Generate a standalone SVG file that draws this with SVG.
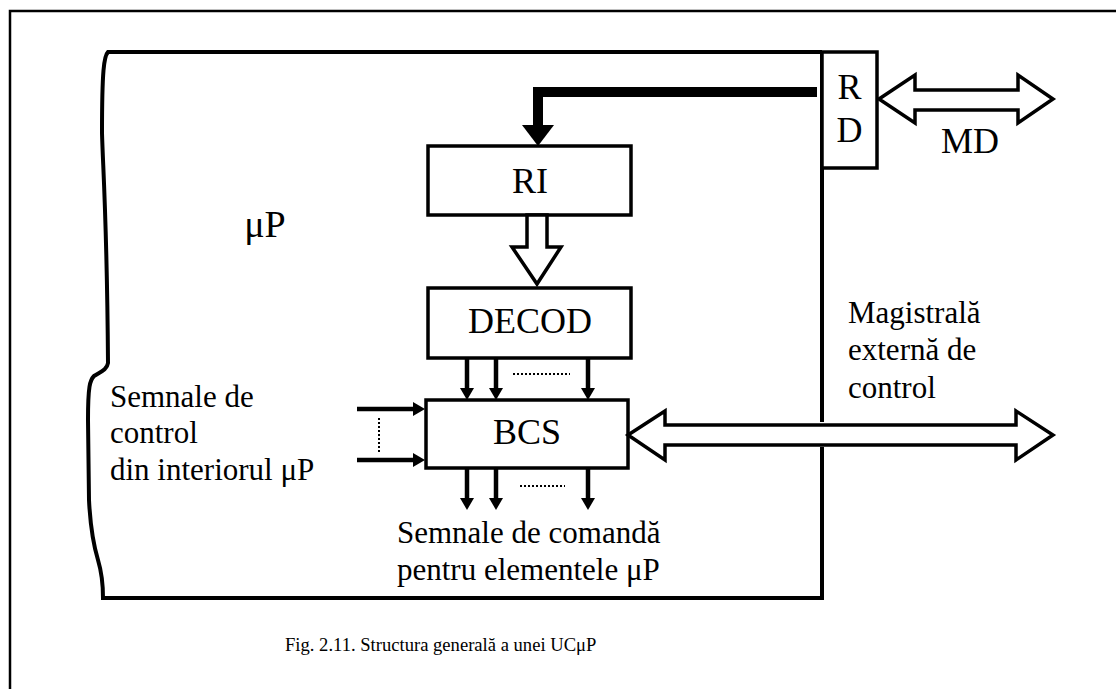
<svg xmlns="http://www.w3.org/2000/svg" width="1116" height="689" viewBox="0 0 1116 689">
<style>
text{font-family:'Liberation Serif','Times New Roman',serif;fill:#000}
.big{font-size:36px}
.lab{font-size:31px}
.box{fill:#fff;stroke:#000;stroke-width:3.5}
.ln{fill:none;stroke:#000;stroke-width:4.5}
.dot{fill:none;stroke:#000;stroke-width:2;stroke-dasharray:2 2}
.hollow{fill:#fff;stroke:#000;stroke-width:3.5;stroke-linejoin:miter}
.head{fill:#000}
</style>
<rect width="1116" height="689" fill="#fff"/>
<g id="frame">
<path d="M10,700 V11 H1120" fill="none" stroke="#000" stroke-width="2.5"/>
</g>
<g id="up">
<path d="M822,52 H108 C104,56 102,70 102,133 C103,170 107,220 108,363 C107,370 100,372 94,376 C90,380 88,386 88,420 L89,500 C90,520 92,540 98,560 C101,570 103,585 103,598 H822 V447 M822,422 V52" fill="none" stroke="#000" stroke-width="4"/>
<text x="265" y="237" font-size="38" text-anchor="middle">μP</text>
</g>
<g id="RD">
<rect class="box" x="822" y="52" width="55" height="116"/>
<text class="big" x="849.5" y="99" text-anchor="middle">R</text>
<text class="big" x="849.5" y="142" text-anchor="middle">D</text>
</g>
<g id="RI">
<rect class="box" x="428" y="146" width="203" height="69"/>
<text class="big" x="530" y="193" text-anchor="middle">RI</text>
</g>
<g id="DECOD">
<rect class="box" x="428" y="288" width="203" height="70"/>
<text class="big" x="530" y="333" text-anchor="middle">DECOD</text>
</g>
<g id="BCS">
<rect class="box" x="426" y="400" width="202" height="68"/>
<text class="big" x="527" y="444" text-anchor="middle">BCS</text>
</g>
<g id="connectors">
<path d="M817,92 H538 V126" fill="none" stroke="#000" stroke-width="10"/>
<polygon class="head" points="522,125 554,125 538,146"/>
<polygon class="hollow" points="527,215 527,247 512,247 537,284 561,247 547,247 547,215"/>
<line class="ln" x1="467" y1="358" x2="467" y2="390"/>
<line class="ln" x1="496" y1="358" x2="496" y2="390"/>
<line class="ln" x1="588" y1="358" x2="588" y2="390"/>
<polygon class="head" points="460,388 474,388 467,400"/>
<polygon class="head" points="489,388 503,388 496,400"/>
<polygon class="head" points="581,388 595,388 588,400"/>
<line class="dot" x1="513" y1="374" x2="570" y2="374"/>
<line class="ln" x1="467" y1="468" x2="467" y2="500"/>
<line class="ln" x1="496" y1="468" x2="496" y2="500"/>
<line class="ln" x1="588" y1="468" x2="588" y2="500"/>
<polygon class="head" points="460,498 474,498 467,510"/>
<polygon class="head" points="489,498 503,498 496,510"/>
<polygon class="head" points="581,498 595,498 588,510"/>
<line class="dot" x1="520" y1="486" x2="565" y2="486"/>
<line class="ln" x1="357" y1="409" x2="415" y2="409"/>
<line class="ln" x1="357" y1="460" x2="415" y2="460"/>
<polygon class="head" points="413,402 413,416 425,409"/>
<polygon class="head" points="413,453 413,467 425,460"/>
<line class="dot" x1="379" y1="418" x2="379" y2="452"/>
<polygon class="hollow" points="628,435 665,411 665,425 1016,425 1016,411 1053,435 1016,460 1016,445 665,445 665,460"/>
<polygon class="hollow" points="879,99 915,75 915,90 1018,90 1018,75 1053,99 1018,123 1018,110 915,110 915,123"/>
</g>
<g id="labels">
<text class="big" x="970" y="153" text-anchor="middle">MD</text>
<text class="lab" x="848" y="323">Magistrală</text>
<text class="lab" x="848" y="360">externă de</text>
<text class="lab" x="848" y="398">control</text>
<text class="lab" x="110" y="407">Semnale de</text>
<text class="lab" x="110" y="443">control</text>
<text class="lab" x="110" y="480">din interiorul μP</text>
<text class="lab" x="397" y="543">Semnale de comandă</text>
<text class="lab" x="397" y="580">pentru elementele μP</text>
<text x="285" y="651" font-size="18.6">Fig. 2.11. Structura generală a unei UCμP</text>
</g>
</svg>
